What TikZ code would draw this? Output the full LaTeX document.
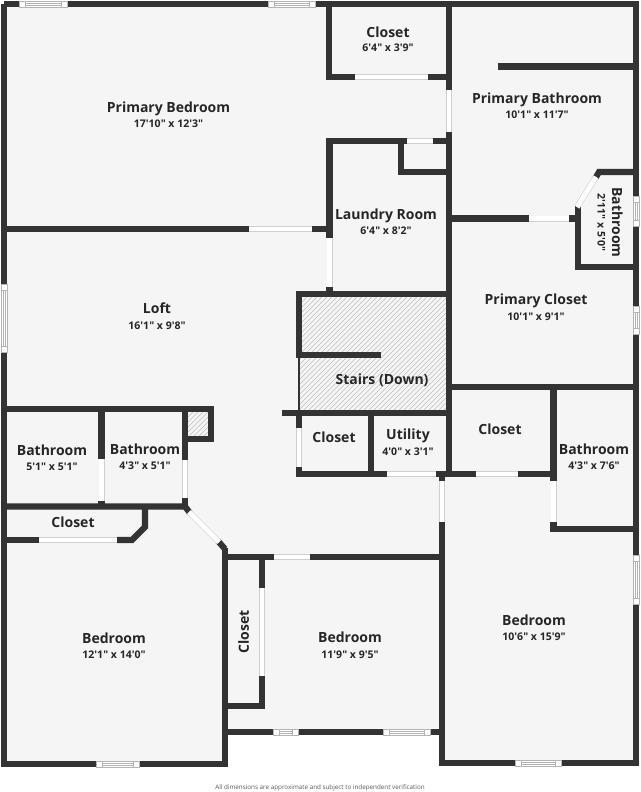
\documentclass[tikz,border=0pt]{standalone}
\usepackage{fontspec}
\newfontfamily\lblfont{Open Sans}
\newfontfamily\foot{Open Sans}
\definecolor{wallc}{HTML}{333333}
\definecolor{roomc}{HTML}{F5F5F5}
\definecolor{edgec}{HTML}{D0D0D0}
\definecolor{hatchc}{HTML}{BEBEBE}
\definecolor{winc}{HTML}{B4B4B4}
\definecolor{inkc}{HTML}{262626}
\tikzset{
  wall/.style={draw=wallc,line width=4.6pt,line join=miter,line cap=butt},
  doorb/.style={draw=edgec,line width=4.5pt,line cap=butt},
  doorw/.style={draw=white,line width=3.6pt,line cap=butt},
  winb/.style={fill=white,draw=winc,line width=.4pt},
  room/.style={font=\lblfont\bfseries\fontsize{10.5}{13}\selectfont,text=inkc,inner sep=0pt,text height=8.2pt,text depth=0pt},
  dims/.style={font=\lblfont\bfseries\fontsize{7.9}{10}\selectfont,text=inkc,inner sep=0pt,text height=6pt,text depth=0pt},
  hatchl/.style={draw=hatchc,line width=.5pt},
}
\newcommand{\door}[2]{\draw[doorb] #1 -- #2; \draw[doorw] #1 -- #2;}
\newcommand{\hwin}[3]{%
  \fill[white] (#1,#3-3) rectangle (#2,#3+3);
  \draw[winb] (#1,#3-3) rectangle ({#1+6},#3+3);
  \draw[winb] ({#2-6},#3-3) rectangle (#2,#3+3);
  \draw[winb] ({#1+6},#3-3) rectangle ({#2-6},#3+3);
  \draw[winb] ({#1+6},#3-1) rectangle ({#2-6},#3+1);}
\newcommand{\vwin}[3]{%
  \fill[white] (#1-3,#2) rectangle (#1+3,#3);
  \draw[winb] (#1-3,#2) rectangle (#1+3,{#2+6});
  \draw[winb] (#1-3,{#3-6}) rectangle (#1+3,#3);
  \draw[winb] (#1-3,{#2+6}) rectangle (#1+3,{#3-6});
  \draw[winb] (#1-1,{#2+6}) rectangle (#1+1,{#3-6});}
\begin{document}
\begin{tikzpicture}[x=0.75pt,y=-0.75pt]
\useasboundingbox (0,0) rectangle (640,792);
\fill[white] (0,0) rectangle (640,792);
% floor
\fill[roomc] (4,4) -- (636,4) -- (636,763) -- (442,763) -- (442,732) -- (225,732) -- (225,764) -- (4,764) -- cycle;
% hatching
\begin{scope}
\clip (302,297) -- (446,297) -- (446,410) -- (299,410) -- (299,358) -- (302,358) -- cycle;
\foreach \k in {0,5,...,295} \draw[hatchl] ({299+\k-110},410) -- ({299+\k},300) -- ++(10,-11);
\end{scope}
\begin{scope}
\clip (188,412) rectangle (208,436);
\foreach \k in {0,5,...,60} \draw[hatchl] ({180+\k-30},440) -- ({180+\k},410);
\end{scope}
% outer shell
\draw[wall] (4,4) -- (636,4) -- (636,763) -- (442,763) -- (442,522);
\draw[wall] (225,764) -- (4,764) -- (4,4);
\draw[wall] (225,548) -- (225,767);
\draw[wall] (225,732) -- (442,732);
% primary bedroom / closet
\draw[wall] (4,229) -- (249,229);
\draw[wall] (312,229) -- (329,229);
\draw[wall] (329,4) -- (329,77) -- (355,77);
\draw[wall] (428,77) -- (449,77);
\draw[wall] (449,4) -- (449,90);
\draw[wall] (449,132) -- (449,476);
% laundry
\draw[wall] (329.5,238) -- (329.5,141) -- (407,141);
\draw[wall] (433,141) -- (449,141);
\draw[wall] (401,141) -- (401,172) -- (449,172);
\draw[wall] (329.5,287) -- (329.5,294);
% primary bath
\draw[wall] (498,66.5) -- (636,66.5);
\draw[wall] (449,218.5) -- (529,218.5);
\draw[wall] (569,218.5) -- (578,218.5);
\draw[wall] (578,206) -- (578,267) -- (636,267);
\draw[wall] (636,172) -- (599,172) -- (595.5,178);
% stairs
\draw[wall] (449,294) -- (299,294) -- (299,358);
\draw[wall] (299,355) -- (381,355);
\draw[draw=wallc,line width=.8pt] (299,358) -- (299,411);
\draw[wall] (282,413) -- (449,413);
% closet + utility
\draw[wall] (299,413) -- (299,428);
\draw[wall] (299,467) -- (299,474) -- (387,474);
\draw[wall] (371,413) -- (371,474);
\draw[wall] (436,474) -- (476,474);
\draw[wall] (518,474) -- (553.5,474);
\draw[wall] (442,474) -- (442,481);
% primary closet, bathroom
\draw[wall] (449,387) -- (636,387);
\draw[wall] (553.5,387) -- (553.5,481);
\draw[wall] (553.5,522) -- (553.5,529) -- (636,529);
% left bathrooms
\draw[wall] (4,409) -- (214,409);
\draw[wall] (211,409) -- (211,439) -- (185,439);
\draw[wall] (185,409) -- (185,460);
\draw[wall] (185,498) -- (185,506);
\draw[wall] (101.5,409) -- (101.5,459);
\draw[wall] (101.5,501) -- (101.5,506);
\draw[wall] (4,506.5) -- (185,506.5) -- (190,513);
% closet left
\draw[wall] (145,506.5) -- (145,527) -- (132,540) -- (117,540);
\draw[wall] (4,540) -- (39,540);
% bedroom 2 wall and closet
\draw[wall] (218,541) -- (225,549);
\draw[wall] (225,557) -- (274,557);
\draw[wall] (310,557) -- (442,557);
\draw[wall] (262,557) -- (262,588);
\draw[wall] (262,676) -- (262,706) -- (225,706);
% doors
\door{(249,229)}{(312,229)}
\door{(355,77)}{(428,77)}
\door{(449,90)}{(449,132)}
\door{(407,141)}{(433,141)}
\door{(329.5,238)}{(329.5,287)}
\door{(529,218.5)}{(569,218.5)}
\door{(577,207)}{(596,177)}
\door{(299,428)}{(299,467)}
\door{(387,474)}{(436,474)}
\door{(476,474)}{(518,474)}
\door{(442,481)}{(442,522)}
\door{(553.5,481)}{(553.5,522)}
\door{(185,460)}{(185,498)}
\door{(101.5,459)}{(101.5,501)}
\door{(39,540)}{(117,540)}
\door{(189,512)}{(219,542)}
\door{(274,557)}{(310,557)}
\door{(262,588)}{(262,676)}
% windows
\hwin{19}{67}{4}
\hwin{268}{315}{4}
\hwin{96}{139}{764}
\hwin{273}{298}{732}
\hwin{383}{430}{732}
\hwin{515}{561}{763}
\vwin{4}{284}{352}
\vwin{636}{196}{226}
\vwin{636}{306}{334}
\vwin{636}{555}{604}
% labels
\node[room] (pbed) at (168.5,107) {Primary Bedroom};
\node[dims] (pbedd) at (168.5,123.3) {17'10" x 12'3"};
\node[room] (cl1) at (388,32) {Closet};
\node[dims] (cl1d) at (388,47.7) {6'4" x 3'9"};
\node[room] (pbath) at (537,98) {Primary Bathroom};
\node[dims] (pbathd) at (537,114.5) {10'1" x 11'7"};
\node[room] (laun) at (386,214) {Laundry Room};
\node[dims] (laund) at (386,230) {6'4" x 8'2"};
\node[room,rotate=-90] (bath0) at (617.5,222.5) {Bathroom};
\node[dims,rotate=-90] (bath0d) at (601.5,222.5) {2'11" x 5'0"};
\node[room] (loft) at (157,308.5) {Loft};
\node[dims] (loftd) at (157,325) {16'1" x 9'8"};
\node[room] (b1) at (52,450) {Bathroom};
\node[dims] (b1d) at (52,466.7) {5'1" x 5'1"};
\node[room] (b2) at (145,449) {Bathroom};
\node[dims] (b2d) at (145,465.7) {4'3" x 5'1"};
\node[room] (pcl) at (536,299.5) {Primary Closet};
\node[dims] (pcld) at (536,316.7) {10'1" x 9'1"};
\node[room] (st) at (382,379) {Stairs (Down)};
\node[room] (cl2) at (334,437) {Closet};
\node[room] (ut) at (408,434) {Utility};
\node[dims] (utd) at (408,451) {4'0" x 3'1"};
\node[room] (cl3) at (500,429.5) {Closet};
\node[room] (b3) at (594,449) {Bathroom};
\node[dims] (b3d) at (594,465.3) {4'3" x 7'6"};
\node[room] (cl4) at (73,522.5) {Closet};
\node[room] (bd1) at (114,638) {Bedroom};
\node[dims] (bd1d) at (114,654.7) {12'1" x 14'0"};
\node[room,rotate=90] (cl5) at (243.5,632) {Closet};
\node[room] (bd2) at (350,637.5) {Bedroom};
\node[dims] (bd2d) at (350,654) {11'9" x 9'5"};
\node[room] (bd3) at (534,620) {Bedroom};
\node[dims] (bd3d) at (534,636.3) {10'6" x 15'9"};
\node[font=\foot\fontsize{4.72}{6}\selectfont,text=black!65,inner sep=0pt] (note) at (320,788) {All dimensions are approximate and subject to independent verification};
\end{tikzpicture}
\end{document}
